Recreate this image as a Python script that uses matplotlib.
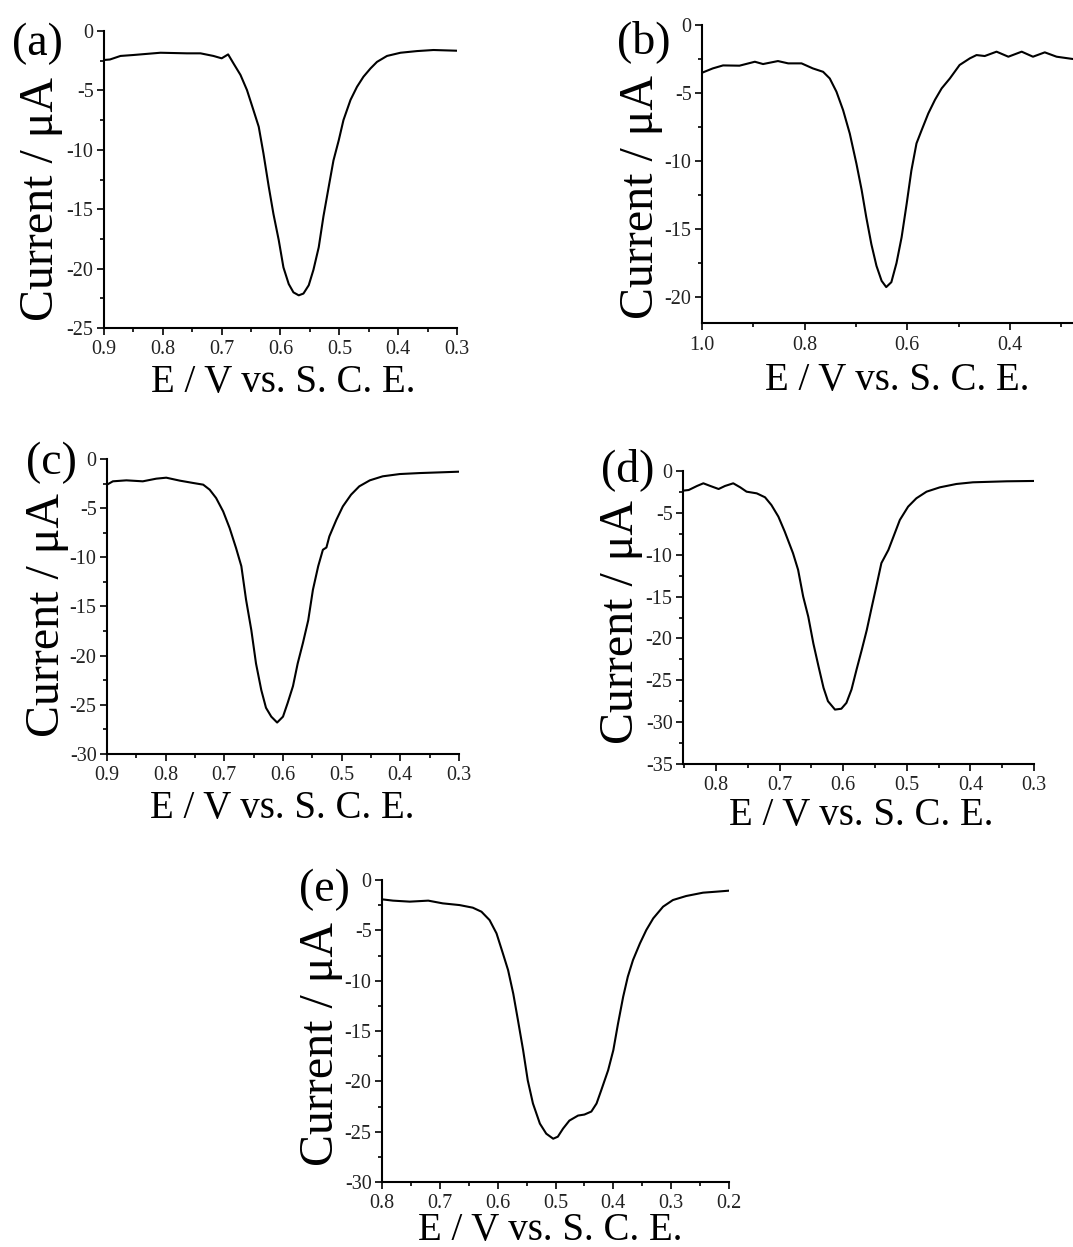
import matplotlib
matplotlib.use('Agg')
import matplotlib.pyplot as plt
from matplotlib.ticker import MultipleLocator, FormatStrFormatter

plt.rcParams['font.family'] = ['Liberation Serif', 'DejaVu Serif']
plt.rcParams['axes.unicode_minus'] = False

# potential (V vs SCE) and current (uA) for each sweep
E_a = [0.900, 0.890, 0.872, 0.850, 0.804, 0.759, 0.736, 0.714, 0.700, 0.689, 0.680,
       0.668, 0.657, 0.646, 0.637, 0.629, 0.620, 0.612, 0.603, 0.595, 0.586, 0.578,
       0.569, 0.561, 0.552, 0.544, 0.535, 0.527, 0.518, 0.510, 0.501, 0.493, 0.481,
       0.470, 0.459, 0.447, 0.436, 0.419, 0.396, 0.368, 0.340, 0.300]
I_a = [-2.44, -2.40, -2.10, -2.02, -1.83, -1.88, -1.88, -2.10, -2.30, -1.97, -2.72,
       -3.70, -4.97, -6.66, -8.06, -10.3, -13.1, -15.4, -17.6, -19.9, -21.3, -22.0,
       -22.25, -22.1, -21.4, -20.1, -18.2, -15.6, -13.1, -10.9, -9.2, -7.5, -5.8,
       -4.7, -3.85, -3.15, -2.60, -2.10, -1.83, -1.69, -1.60, -1.66]

E_b = [1.000, 0.979, 0.959, 0.927, 0.897, 0.881, 0.852, 0.832, 0.806, 0.784, 0.764,
       0.751, 0.738, 0.725, 0.712, 0.699, 0.689, 0.680, 0.670, 0.660, 0.650, 0.641,
       0.631, 0.621, 0.611, 0.601, 0.592, 0.582, 0.572, 0.559, 0.546, 0.533, 0.517,
       0.498, 0.478, 0.465, 0.449, 0.426, 0.403, 0.377, 0.355, 0.332, 0.309, 0.277]
I_b = [-3.51, -3.19, -2.97, -2.99, -2.70, -2.87, -2.65, -2.82, -2.82, -3.19, -3.44,
       -3.93, -4.90, -6.26, -7.98, -10.2, -12.1, -14.1, -16.1, -17.7, -18.8, -19.26,
       -18.9, -17.5, -15.6, -13.1, -10.7, -8.7, -7.73, -6.5, -5.5, -4.66, -3.93,
       -2.94, -2.45, -2.21, -2.28, -1.96, -2.33, -1.96, -2.33, -2.01, -2.33, -2.50]

E_c = [0.900, 0.890, 0.867, 0.839, 0.816, 0.799, 0.776, 0.753, 0.736, 0.725, 0.714,
       0.702, 0.691, 0.680, 0.671, 0.663, 0.654, 0.646, 0.637, 0.629, 0.620, 0.610,
       0.600, 0.592, 0.583, 0.575, 0.566, 0.557, 0.549, 0.540, 0.532, 0.526, 0.521,
       0.509, 0.498, 0.484, 0.470, 0.452, 0.430, 0.401, 0.367, 0.333, 0.300]
I_c = [-2.61, -2.27, -2.17, -2.27, -2.00, -1.90, -2.20, -2.44, -2.61, -3.12, -3.97,
       -5.33, -7.02, -9.06, -10.9, -14.3, -17.4, -20.8, -23.5, -25.3, -26.2, -26.8,
       -26.2, -24.8, -23.1, -20.8, -18.7, -16.4, -13.3, -10.9, -9.23, -9.0, -7.87,
       -6.18, -4.82, -3.63, -2.78, -2.17, -1.76, -1.53, -1.43, -1.36, -1.29]

E_d = [0.852, 0.843, 0.830, 0.820, 0.809, 0.796, 0.786, 0.773, 0.762, 0.752, 0.736,
       0.723, 0.713, 0.702, 0.692, 0.679, 0.671, 0.663, 0.655, 0.647, 0.639, 0.631,
       0.624, 0.613, 0.603, 0.595, 0.587, 0.579, 0.571, 0.563, 0.555, 0.548, 0.540,
       0.529, 0.521, 0.511, 0.498, 0.485, 0.469, 0.448, 0.422, 0.396, 0.343, 0.300]
I_d = [-2.35, -2.27, -1.79, -1.47, -1.79, -2.15, -1.79, -1.47, -1.95, -2.47, -2.67,
       -3.14, -4.06, -5.45, -7.24, -9.82, -11.8, -15.0, -17.4, -20.6, -23.3, -25.9,
       -27.5, -28.5, -28.4, -27.7, -26.1, -23.7, -21.4, -19.0, -16.2, -13.8, -11.0,
       -9.43, -7.84, -5.85, -4.26, -3.26, -2.47, -1.95, -1.55, -1.35, -1.23, -1.19]

E_e = [0.800, 0.781, 0.752, 0.720, 0.695, 0.666, 0.643, 0.628, 0.614, 0.602, 0.591,
       0.582, 0.573, 0.565, 0.556, 0.548, 0.539, 0.527, 0.516, 0.504, 0.496, 0.487,
       0.476, 0.461, 0.450, 0.438, 0.429, 0.421, 0.409, 0.400, 0.392, 0.383, 0.375,
       0.366, 0.354, 0.343, 0.331, 0.314, 0.297, 0.274, 0.245, 0.222, 0.200]
I_e = [-1.92, -2.05, -2.15, -2.05, -2.32, -2.49, -2.75, -3.15, -3.98, -5.30, -7.29,
       -8.95, -11.3, -13.9, -16.9, -19.9, -22.2, -24.2, -25.2, -25.7, -25.5, -24.7,
       -23.9, -23.4, -23.3, -23.0, -22.2, -20.9, -18.9, -16.9, -14.3, -11.6, -9.61,
       -7.95, -6.30, -4.97, -3.81, -2.65, -1.99, -1.59, -1.26, -1.16, -1.06]

W, H = 1073, 1247
fig = plt.figure(figsize=(W / 100, H / 100), dpi=100)


def px_axes(left, top, right, bottom):
    return fig.add_axes([left / W, 1 - bottom / H, (right - left) / W, (bottom - top) / H])


def style(ax, xlim, ylim, xmaj, xmin, xfmt, ymaj=5, ymin=2.5):
    ax.set_xlim(*xlim)
    ax.set_ylim(*ylim)
    for s in ['top', 'right']:
        ax.spines[s].set_visible(False)
    for s in ['left', 'bottom']:
        ax.spines[s].set_linewidth(1.5)
    ax.xaxis.set_major_locator(MultipleLocator(xmaj))
    ax.xaxis.set_minor_locator(MultipleLocator(xmin))
    ax.xaxis.set_major_formatter(FormatStrFormatter(xfmt))
    ax.yaxis.set_major_locator(MultipleLocator(ymaj))
    ax.yaxis.set_minor_locator(MultipleLocator(ymin))
    ax.yaxis.set_major_formatter(FormatStrFormatter('%d'))
    ax.tick_params(which='both', direction='out', width=1.2, labelsize=14.5,
                   labelcolor='#222222')
    ax.tick_params(which='major', length=5)
    ax.tick_params(which='minor', length=3)
    ax.tick_params(axis='x', pad=4)
    ax.tick_params(axis='y', pad=2.5)


def labels(tag, tag_xy, ylab_xy, xlab_xy):
    fig.text(tag_xy[0] / W, 1 - tag_xy[1] / H, tag, fontsize=33,
             ha='center', va='center')
    fig.text(ylab_xy[0] / W, 1 - ylab_xy[1] / H, 'Current / μA', fontsize=34.5,
             rotation=90, ha='center', va='center')
    fig.text(xlab_xy[0] / W, 1 - xlab_xy[1] / H, 'E / V vs. S. C. E.', fontsize=28,
             ha='center', va='baseline')


ax = px_axes(104, 31, 457, 328)
ax.plot(E_a, I_a, color='k', lw=1.5)
style(ax, (0.9, 0.3), (-25, 0), 0.1, 0.05, '%.1f')
labels('(a)', (37, 44), (41, 199), (283, 392))

ax = px_axes(702, 25, 1073, 323)
ax.plot(E_b, I_b, color='k', lw=1.5)
style(ax, (1.0, 0.277), (-21.9, 0), 0.2, 0.1, '%.1f')
labels('(b)', (644, 42), (641, 197), (897, 390))

ax = px_axes(107, 459, 459, 754)
ax.plot(E_c, I_c, color='k', lw=1.5)
style(ax, (0.9, 0.3), (-30, 0), 0.1, 0.05, '%.1f')
labels('(c)', (51, 463), (47, 615), (282, 818))

ax = px_axes(683, 471, 1034, 764)
ax.plot(E_d, I_d, color='k', lw=1.5)
style(ax, (0.852, 0.3), (-35, 0), 0.1, 0.05, '%.1f')
labels('(d)', (628, 470), (621, 622), (861, 825))

ax = px_axes(382, 880, 729, 1182)
ax.plot(E_e, I_e, color='k', lw=1.5)
style(ax, (0.8, 0.2), (-30, 0), 0.1, 0.05, '%.1f')
labels('(e)', (324, 890), (321, 1044), (550, 1240))

fig.savefig('out.png', dpi=100)
